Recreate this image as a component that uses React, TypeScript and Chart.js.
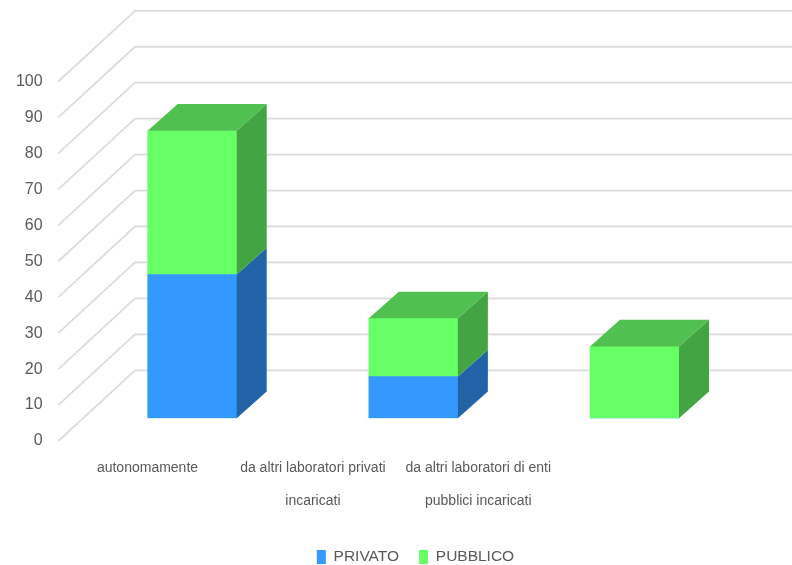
import React, { useEffect, useRef } from 'react';
import { Chart, registerables } from 'chart.js';

Chart.register(...registerables);

// ---- data ----
const CATEGORY_LINES: string[][] = [
  ['autonomamente'],
  ['da altri laboratori privati', 'incaricati'],
  ['da altri laboratori di enti', 'pubblici incaricati'],
];
const SERIES_NAMES = ['PRIVATO', 'PUBBLICO'];
const PRIVATO = [40, 11.6, 0];
const PUBBLICO = [40, 16.2, 20];
const Y_MIN = 0;
const Y_MAX = 100;
const Y_STEP = 10;

// ---- styles ----
const FRONT_COLORS = ['#3399FF', '#66FF66'];
const SIDE_COLORS = ['#2163A6', '#43A443'];
const TOP_COLORS = ['#2C84DC', '#50C050'];
const TEXT_COLOR = '#595959';
const GRID_COLOR = '#DCDCDC';
const FONT = "'Liberation Sans', Arial, sans-serif";

const W = 792;
const H = 565;
const BAR_DEPTH = { dx: 30, dy: -26.7 };
const WALL_FRONT = { dx: -23.3, dy: 22.7 };
const WALL_BACK = { dx: 53.4, dy: -48 };

const box3dPlugin = {
  id: 'box3d',
  beforeDatasetsDraw(chart: any) {
    const { ctx, chartArea } = chart;
    const ys = chart.scales.y;
    ctx.save();
    ctx.strokeStyle = GRID_COLOR;
    ctx.lineWidth = 1.8;
    for (const t of ys.ticks) {
      const py = ys.getPixelForValue(t.value);
      ctx.beginPath();
      ctx.moveTo(chartArea.left + WALL_FRONT.dx, py + WALL_FRONT.dy);
      ctx.lineTo(chartArea.left + WALL_BACK.dx, py + WALL_BACK.dy);
      ctx.lineTo(chart.width, py + WALL_BACK.dy);
      ctx.stroke();
    }
    ctx.restore();
  },
  afterDatasetsDraw(chart: any) {
    const { ctx } = chart;
    ctx.save();
    for (let i = 0; i < CATEGORY_LINES.length; i++) {
      let topEl: any = null;
      let topDs = -1;
      chart.data.datasets.forEach((_ds: any, d: number) => {
        const meta = chart.getDatasetMeta(d);
        const el = meta.data[i];
        if (!el) return;
        const p = el.getProps(['x', 'y', 'base', 'width'], true);
        if (Math.abs(p.base - p.y) < 0.5) return;
        const right = p.x + p.width / 2;
        ctx.fillStyle = SIDE_COLORS[d];
        ctx.beginPath();
        ctx.moveTo(right, p.y);
        ctx.lineTo(right + BAR_DEPTH.dx, p.y + BAR_DEPTH.dy);
        ctx.lineTo(right + BAR_DEPTH.dx, p.base + BAR_DEPTH.dy);
        ctx.lineTo(right, p.base);
        ctx.closePath();
        ctx.fill();
        topEl = p;
        topDs = d;
      });
      if (topEl) {
        const p = topEl;
        const left = p.x - p.width / 2;
        const right = p.x + p.width / 2;
        ctx.fillStyle = TOP_COLORS[topDs];
        ctx.beginPath();
        ctx.moveTo(left, p.y);
        ctx.lineTo(left + BAR_DEPTH.dx, p.y + BAR_DEPTH.dy);
        ctx.lineTo(right + BAR_DEPTH.dx, p.y + BAR_DEPTH.dy);
        ctx.lineTo(right, p.y);
        ctx.closePath();
        ctx.fill();
      }
    }
    ctx.restore();
  },
};

export default function App() {
  const ref = useRef<HTMLCanvasElement>(null);

  useEffect(() => {
    document.body.style.margin = '0';
    const canvas = ref.current;
    if (!canvas) return;
    const series = [PRIVATO, PUBBLICO];
    const chart = new Chart(canvas, {
      type: 'bar',
      data: {
        datasets: series.map((vals, d) => ({
          label: SERIES_NAMES[d],
          data: vals.map((v, i) => ({ x: i, y: v })),
          backgroundColor: FRONT_COLORS[d],
          borderWidth: 0,
          barThickness: 89,
        })),
      },
      options: {
        responsive: false,
        animation: false,
        devicePixelRatio: 1,
        layout: { padding: { top: 58.8, left: 0, right: -39, bottom: -9.75 } },
        plugins: {
          tooltip: { enabled: false },
          legend: {
            display: true,
            position: 'bottom',
            labels: {
              boxWidth: 9,
              boxHeight: 14,
              padding: 20,
              color: TEXT_COLOR,
              font: { family: FONT, size: 15.5 },
            },
          },
        },
        scales: {
          x: {
            type: 'linear',
            stacked: true,
            display: false,
            offset: false,
            min: -0.5001,
            max: 2.7122,
          },
          x2: {
            type: 'linear',
            position: 'bottom',
            offset: false,
            min: -0.3984,
            max: 3.8966,
            grid: { display: false, drawTicks: false, offset: false },
            border: { display: false },
            afterBuildTicks: (s: any) => {
              s.ticks = CATEGORY_LINES.map((_, i) => ({ value: i }));
            },
            afterFit: (s: any) => {
              s.height = 110.95;
              s.paddingLeft = 0;
              s.paddingRight = 0;
            },
            ticks: {
              autoSkip: false,
              maxRotation: 0,
              minRotation: 0,
              padding: 32.9,
              color: TEXT_COLOR,
              font: { family: FONT, size: 14, lineHeight: 2.4 },
              callback: (v: any) => CATEGORY_LINES[Math.round(Number(v))] ?? '',
            },
          },
          y: {
            type: 'linear',
            stacked: true,
            min: Y_MIN,
            max: Y_MAX,
            grid: { display: false, drawTicks: false },
            border: { display: false },
            afterFit: (s: any) => {
              s.width = 81.6;
              s.paddingTop = 0;
              s.paddingBottom = 0;
            },
            ticks: {
              stepSize: Y_STEP,
              padding: 39,
              labelOffset: 22.7,
              color: TEXT_COLOR,
              font: { family: FONT, size: 16 },
            },
          },
        },
      } as any,
      plugins: [box3dPlugin],
    });
    return () => chart.destroy();
  }, []);

  return (
    <canvas
      ref={ref}
      width={W}
      height={H}
      style={{ display: 'block', width: W, height: H }}
    />
  );
}
